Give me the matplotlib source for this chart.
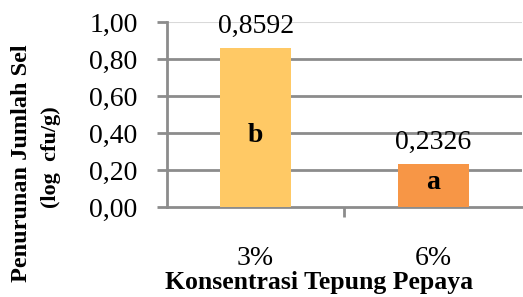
import numpy as np
import matplotlib.pyplot as plt

categories = ['3%', '6%']
values = [0.8592, 0.2326]
value_labels = ['0,8592', '0,2326']
letters = ['b', 'a']
colors = ['#FFC965', '#F79646']
yticks = [0.0, 0.2, 0.4, 0.6, 0.8, 1.0]
ytick_labels = ['0,00', '0,20', '0,40', '0,60', '0,80', '1,00']

plt.rcParams['font.family'] = ['Liberation Serif', 'DejaVu Serif']

fig = plt.figure(figsize=(5.23, 2.97), dpi=100)
ax = fig.add_axes([0.319, 0.303, 0.679, 0.623])

x = np.arange(len(categories))
ax.bar(x, values, width=0.4, color=colors, zorder=3)

ax.set_xlim(-0.5, 1.5)
ax.set_ylim(0, 1.0)
ax.set_yticks(yticks)
ax.set_yticklabels(ytick_labels, fontsize=20)
ax.set_xticks([0.5])
ax.set_xticklabels([''])
ax.set_xticks(x, minor=True)
ax.set_xticklabels(categories, minor=True, fontsize=20)
ax.tick_params(axis='x', which='minor', length=0, pad=28)
ax.tick_params(axis='x', which='major', length=7, width=2, color='#8c8c8c', direction='out')
ax.tick_params(axis='y', length=7, width=2, color='#8c8c8c', direction='out', pad=14)

for yv in yticks[1:-1]:
    ax.axhline(yv, color='#8c8c8c', lw=2, zorder=1)
ax.axhline(1.0, color='#d9d9d9', lw=1.5, zorder=1)

for s in ['top', 'right']:
    ax.spines[s].set_visible(False)
ax.spines['left'].set_color('#8c8c8c')
ax.spines['left'].set_linewidth(2)
ax.spines['bottom'].set_color('#8c8c8c')
ax.spines['bottom'].set_linewidth(2)

letter_frac = [0.45, 0.56]
for i, v in enumerate(values):
    ax.text(x[i], v + 0.08, value_labels[i], ha='center', va='baseline', fontsize=20)
    ax.text(x[i], v * letter_frac[i], letters[i], ha='center', va='center',
            fontsize=20, fontweight='bold', zorder=4)

fig.text(0.61, 0.048, 'Konsentrasi Tepung Pepaya', ha='center', va='center',
         fontsize=18.5, fontweight='bold')
fig.text(0.042, 0.45, 'Penurunan Jumlah Sel', rotation=90, ha='center', va='center',
         fontsize=17.5, fontweight='bold')
fig.text(0.098, 0.47, '(log  cfu/g)', rotation=90, ha='center', va='center',
         fontsize=16, fontweight='bold')

fig.savefig('out.png', dpi=100)
